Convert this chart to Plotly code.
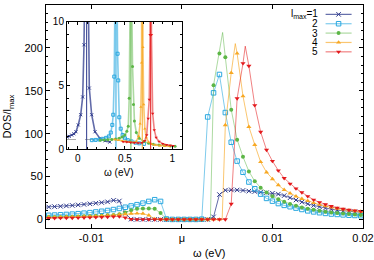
import plotly.graph_objects as go

# ---------------- main panel data (omega in eV, DOS/l_max) ----------------
omega = [-0.01535, -0.0147, -0.01405, -0.0134, -0.01275, -0.0121, -0.01145, -0.0108,
         -0.01015, -0.0095, -0.00885, -0.0082, -0.00755, -0.0069, -0.00625, -0.0056,
         -0.00495, -0.0043, -0.00365, -0.003, -0.00235, -0.0017, -0.00105, -0.0004,
         0.00025, 0.0009, 0.00155, 0.0022, 0.00285, 0.0035, 0.00415, 0.0048,
         0.00545, 0.0061, 0.00675, 0.0074, 0.00805, 0.0087, 0.00935, 0.01,
         0.01065, 0.0113, 0.01195, 0.0126, 0.01325, 0.0139, 0.01455, 0.0152,
         0.01585, 0.0165, 0.01715, 0.0178, 0.01845, 0.0191, 0.01975, 0.0204]

dos_l1 = [14.2, 14.5, 14.9, 15.3, 15.8, 16.3, 16.9, 17.5,
          18.2, 18.9, 19.7, 20.5, 22.3, 21.5, 7.0, 0.3,
          0, 0, 0, 0, 0, 0, 0, 0,
          0, 0, 0, 0, 0, 3.0, 29, 34,
          34.5, 34.3, 33.8, 33.0, 32.5, 31.8, 31.2, 30.5,
          29.5, 27.8, 25.3, 22.6, 20.2, 18.1, 16.3, 14.7,
          13.2, 11.9, 10.8, 10.0, 9.3, 8.8, 8.4, 8.1]

dos_l2 = [4.5, 4.8, 5.1, 5.4, 5.8, 6.2, 6.7, 7.3,
          7.9, 8.7, 9.5, 10.4, 11.5, 12.8, 14.2, 15.7,
          17.2, 19.0, 21.0, 23.0, 21.0, 0.5, 0, 0,
          0, 0, 0, 0.3, 119.5, 147.6, 169, 124.6,
          90, 68, 55, 43.6, 35.8, 29.5, 24.5, 21.3,
          18.5, 16.4, 14.8, 13.2, 11.6, 10.0, 8.8, 7.8,
          7.0, 6.3, 5.8, 5.3, 4.9, 4.6, 4.3, 4.1]

dos_l3 = [2.6, 2.7, 2.8, 2.9, 3.0, 3.2, 3.4, 3.6,
          3.8, 4.1, 4.4, 4.8, 5.3, 6.0, 8.0, 10.8,
          12.3, 12.6, 12.7, 12.5, 7.4, 0.3, 0, 0,
          0, 0, 0, 0, 0, 156.5, 193.5, 189,
          128, 93, 73, 56, 44.5, 37, 31.5, 27,
          23.5, 20.5, 18, 16, 14, 12.5, 11.2, 10.0,
          9.0, 8.2, 7.4, 6.8, 6.2, 5.7, 5.3, 5.0]

dos_l4 = [2.3, 2.4, 2.5, 2.6, 2.7, 2.9, 3.1, 3.3,
          3.5, 3.8, 4.1, 4.5, 5.0, 5.6, 6.3, 6.8,
          7.0, 6.8, 4.8, 0.5, 0, 0, 0, 0,
          0, 0, 0, 0, 0, 0, 0, 110,
          171, 193.5, 143.7, 108, 87, 67, 55, 47,
          40, 34.5, 30.5, 27, 24, 21.5, 19.2, 17.2,
          15.5, 14.0, 12.7, 11.6, 10.6, 9.8, 9.1, 8.5]

dos_l5 = [1.3, 1.4, 1.5, 1.6, 1.7, 1.8, 1.9, 2.0,
          2.2, 2.4, 2.6, 2.9, 3.2, 3.4, 2.0, 0.2,
          0, 0, 0, 0, 0, 0, 0, 0,
          0, 0, 0, 0, 0, 0, 0, 0,
          18, 141, 182, 179, 133, 102, 81, 68,
          57, 48, 41.5, 36, 31.5, 27, 22.8, 20,
          17.5, 15.4, 13.6, 12.2, 11.1, 10.3, 9.6, 9.0]

# extra curve points (edge / apex of resonances), drawn by the line only
extra_w1, extra_v1 = [], []
extra_w2, extra_v2 = [], []
extra_w3, extra_v3 = [0.00315, 0.0045], [0, 218]
extra_w4, extra_v4 = [0.00445, 0.0059], [0, 205]
extra_w5, extra_v5 = [0.0070], [202]

labels = ["l<sub>max</sub>=1", "2", "3", "4", "5"]
x_tick_vals = [-0.01, 0.0, 0.01, 0.02]
x_tick_text = ["-0.01", "μ", "0.01", "0.02"]

# ---------------- inset data (omega in eV) ----------------
inset_w1 = [-0.113, -0.09, -0.063, -0.04, -0.018, 0.006, 0.032, 0.053, 0.067, 0.08,
            0.088, 0.095, 0.102, 0.11, 0.123, 0.148, 0.183, 0.236, 0.29, 0.34]
inset_v1 = [0.95, 1.0, 1.1, 1.2, 1.36, 1.9, 2.7, 4.1, 8.2, 16,
            30, 60, 30, 14, 4.8, 2.7, 1.36, 0.84, 0.65, 0.55]
inset_w2 = [0.15, 0.19, 0.23, 0.27, 0.30, 0.33, 0.35, 0.366, 0.376, 0.387, 0.396, 0.405,
            0.414, 0.422, 0.429, 0.44, 0.455, 0.475, 0.5, 0.53, 0.57, 0.61, 0.65, 0.7]
inset_v2 = [0.7, 0.72, 0.75, 0.8, 0.88, 1.0, 1.3, 1.9, 2.7, 5.7, 14, 60,
            14, 7.5, 5.4, 2.5, 1.6, 1.1, 0.85, 0.7, 0.6, 0.5, 0.45, 0.4]
inset_w3 = [0.24, 0.28, 0.32, 0.36, 0.40, 0.44, 0.47, 0.5, 0.52, 0.535, 0.545, 0.555, 0.563,
            0.571, 0.58, 0.59, 0.6, 0.62, 0.65, 0.7, 0.75, 0.8, 0.86, 0.92, 0.98, 1.03]
inset_v3 = [0.7, 0.72, 0.74, 0.76, 0.8, 0.86, 0.95, 1.1, 1.4, 1.8, 4.0, 12, 60,
            12, 6.5, 3.5, 2.2, 1.3, 0.85, 0.6, 0.45, 0.38, 0.32, 0.28, 0.25, 0.23]
inset_w4 = [0.39, 0.43, 0.47, 0.51, 0.55, 0.59, 0.62, 0.645, 0.66, 0.668, 0.676, 0.683,
            0.69, 0.698, 0.71, 0.725, 0.75, 0.78, 0.82, 0.87, 0.92, 0.97]
inset_v4 = [0.75, 0.7, 0.65, 0.6, 0.55, 0.52, 0.6, 1.0, 2.0, 3.3, 6.8, 60,
            8, 3.5, 1.6, 0.9, 0.55, 0.4, 0.32, 0.27, 0.24, 0.22]
inset_w5 = [0.48, 0.52, 0.56, 0.6, 0.64, 0.68, 0.71, 0.73, 0.746, 0.757, 0.765, 0.772,
            0.78, 0.793, 0.81, 0.83, 0.86, 0.9, 0.94, 0.98, 1.01]
inset_v5 = [0.58, 0.55, 0.52, 0.5, 0.48, 0.5, 0.65, 1.1, 2.4, 3.9, 9, 60,
            9, 2.8, 1.5, 0.9, 0.6, 0.42, 0.33, 0.28, 0.26]
inset_peak_w = [0.095, 0.405, 0.563, 0.683, 0.772]
inset_ref_w = [-0.113, 0.25]
inset_ref_v = [0.75, 0.75]

# ---------------- styles ----------------
mk_colors = ["#2e3a8c", "#2aa8e0", "#5cb646", "#f7a823", "#e3191c"]
ln_colors = ["rgba(46,58,140,0.75)", "rgba(42,168,224,0.6)", "rgba(92,182,70,0.5)",
             "rgba(247,168,35,0.65)", "rgba(227,25,28,0.55)"]
symbols = ["x-thin", "square-open", "circle", "triangle-up", "triangle-down"]
mk_sizes = [4.5, 4.5, 4, 4.5, 4.5]
FONT = "Liberation Sans, Arial, Helvetica, sans-serif"

series = [dos_l1, dos_l2, dos_l3, dos_l4, dos_l5]
extras = [(extra_w1, extra_v1), (extra_w2, extra_v2), (extra_w3, extra_v3),
          (extra_w4, extra_v4), (extra_w5, extra_v5)]
insets = [(inset_w1, inset_v1), (inset_w2, inset_v2), (inset_w3, inset_v3),
          (inset_w4, inset_v4), (inset_w5, inset_v5)]


def marker_style(i, size):
    open_sym = symbols[i] in ("x-thin", "square-open")
    return dict(symbol=symbols[i], size=size, color=mk_colors[i],
                line=dict(color=mk_colors[i], width=1 if open_sym else 0))


fig = go.Figure()

# inset reference dashed line
fig.add_trace(go.Scatter(x=inset_ref_w, y=inset_ref_v, mode="lines", xaxis="x2", yaxis="y2",
                         line=dict(color="#aaaaaa", width=1, dash="dash"), hoverinfo="skip"))

for i in range(5):
    vals = series[i]
    ew, ev = extras[i]
    pts = sorted(list(zip(omega, vals)) + list(zip(ew, ev)))
    fig.add_trace(go.Scatter(x=[p[0] for p in pts], y=[p[1] for p in pts], mode="lines",
                             line=dict(color=ln_colors[i], width=1), hoverinfo="skip"))
    fig.add_trace(go.Scatter(x=omega, y=vals, mode="markers", marker=marker_style(i, mk_sizes[i]),
                             name=labels[i]))
    # inset
    iw, iv = insets[i]
    fig.add_trace(go.Scatter(x=[inset_peak_w[i], inset_peak_w[i]], y=[0, 10], mode="lines",
                             xaxis="x2", yaxis="y2", line=dict(color=mk_colors[i], width=1),
                             hoverinfo="skip"))
    fig.add_trace(go.Scatter(x=iw, y=iv, mode="lines+markers", xaxis="x2", yaxis="y2",
                             line=dict(color=ln_colors[i], width=1.6),
                             marker=marker_style(i, 3)))

# manual gnuplot-style legend (text right, sample line + point to its right)
leg_text_x = 0.864
leg_line_x0, leg_line_x1, leg_mark_x = 0.882, 0.964, 0.923
leg_y0, leg_dy = 0.958, 0.042
annotations = []
for i in range(5):
    yy = leg_y0 - i * leg_dy
    fig.add_trace(go.Scatter(x=[leg_line_x0, leg_line_x1], y=[yy, yy], mode="lines",
                             xaxis="x3", yaxis="y3", line=dict(color=ln_colors[i], width=1.2),
                             hoverinfo="skip"))
    fig.add_trace(go.Scatter(x=[leg_mark_x], y=[yy], mode="markers", xaxis="x3", yaxis="y3",
                             marker=marker_style(i, mk_sizes[i]), hoverinfo="skip"))
    annotations.append(dict(text=labels[i], x=leg_text_x, y=yy, xref="paper", yref="paper",
                            xanchor="right", yanchor="middle", showarrow=False,
                            font=dict(size=10, family=FONT, color="black")))

annotations += [
    dict(text="ω (eV)", x=0.514, y=-0.112, xref="paper", yref="paper", showarrow=False,
         xanchor="center", yanchor="middle", font=dict(size=11, family=FONT)),
    dict(text="DOS/l<sub>max</sub>", x=-0.12, y=0.5, xref="paper", yref="paper", showarrow=False,
         textangle=-90, xanchor="center", yanchor="middle", font=dict(size=11, family=FONT)),
    dict(text="ω (eV)", x=0.229, y=0.251, xref="paper", yref="paper", showarrow=False,
         xanchor="center", yanchor="middle", font=dict(size=10, family=FONT)),
]

axis_common = dict(showline=True, linecolor="black", linewidth=1, mirror="ticks",
                   ticks="inside", tickcolor="black", showgrid=False, zeroline=False,
                   automargin=False)

fig.update_layout(
    width=374, height=260,
    margin=dict(l=46, r=11, t=5, b=32),
    paper_bgcolor="white", plot_bgcolor="white",
    showlegend=False,
    hovermode=False,
    font=dict(family=FONT, size=11, color="black"),
    xaxis=dict(domain=[0, 1], anchor="y", range=[-0.015, 0.02], tickmode="array",
               tickvals=x_tick_vals, ticktext=x_tick_text, ticklen=4,
               tickfont=dict(size=11), **axis_common),
    yaxis=dict(domain=[0, 1], anchor="x", range=[-10, 250], tick0=0, dtick=50, ticklen=4,
               minor=dict(ticks="inside", dtick=10, tick0=0, ticklen=2, tickcolor="black"),
               tickfont=dict(size=11), **axis_common),
    xaxis2=dict(domain=[0.0662, 0.429], anchor="y2", range=[-0.113, 1.103], tick0=0, dtick=0.5,
                ticklen=3, minor=dict(ticks="inside", dtick=0.1, tick0=0, ticklen=2,
                                      tickcolor="black"),
                tickfont=dict(size=10), **axis_common),
    yaxis2=dict(domain=[0.354, 0.924], anchor="x2", range=[0, 10], tick0=0, dtick=5,
                ticklen=3, minor=dict(ticks="inside", dtick=1, tick0=0, ticklen=2,
                                      tickcolor="black"),
                tickfont=dict(size=10), **axis_common),
    xaxis3=dict(overlaying="x", anchor="y3", range=[0, 1], visible=False, fixedrange=True),
    yaxis3=dict(overlaying="y", anchor="x3", range=[0, 1], visible=False, fixedrange=True),
    annotations=annotations,
)

fig.write_html("out.html",
               config={"displayModeBar": False, "staticPlot": True},
               post_script="document.body.style.margin='0';document.body.style.padding='0';"
                           "document.body.style.overflow='hidden';")
